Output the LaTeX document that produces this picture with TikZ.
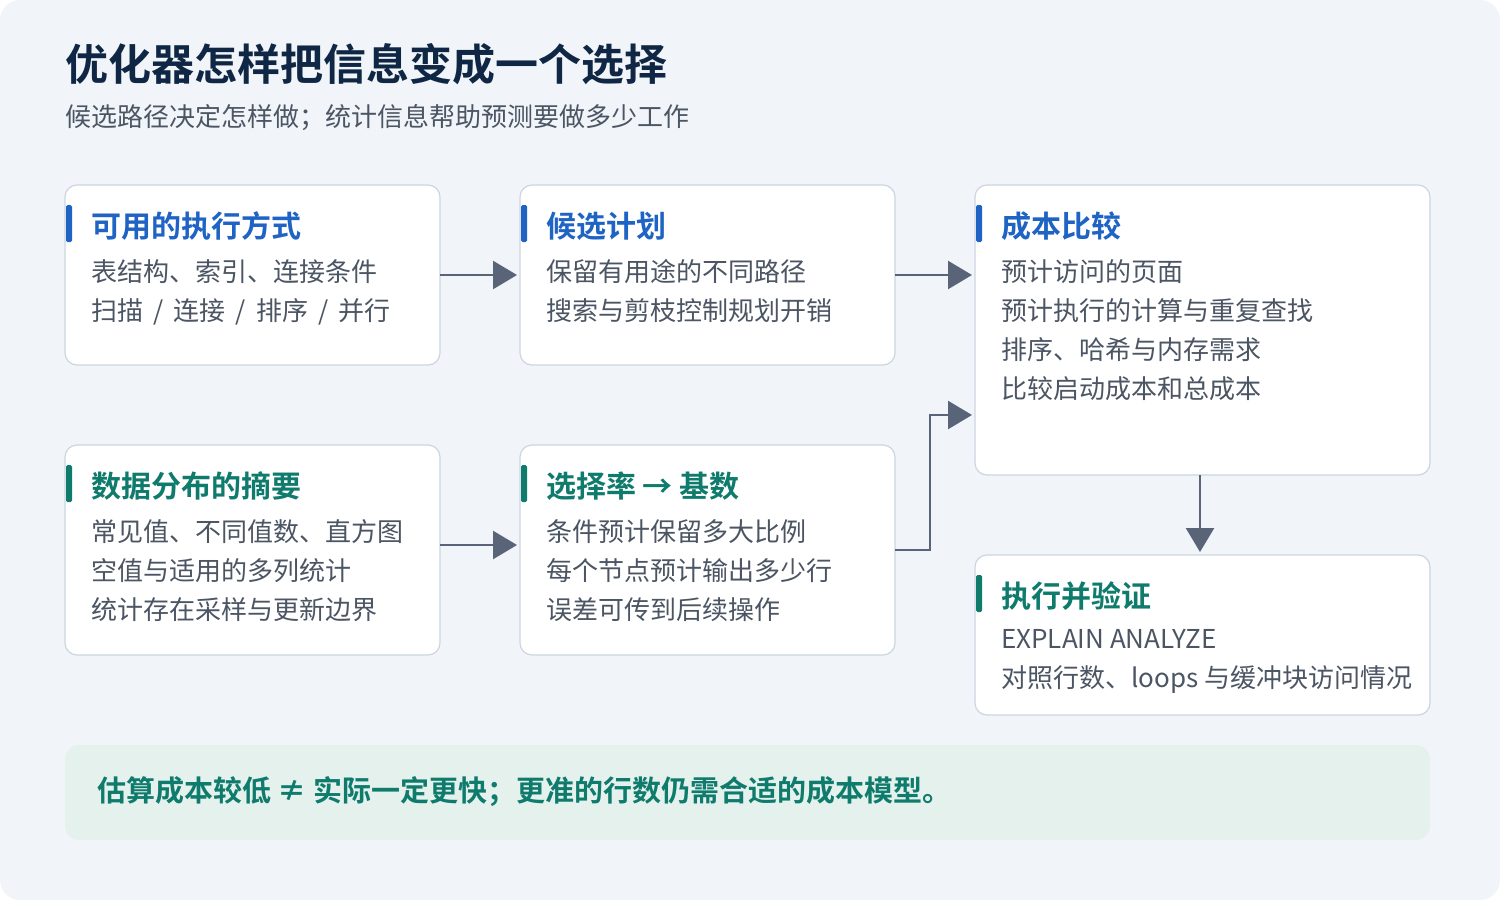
\documentclass[tikz,border=0pt]{standalone}
\usepackage{fontspec}
\setmainfont{Noto Sans CJK SC}
\newfontfamily\cjkb{Noto Sans CJK SC Bold}
\usetikzlibrary{arrows.meta}
\definecolor{bgc}{HTML}{F1F5F9}
\definecolor{edgec}{HTML}{CBD5E1}
\definecolor{bluec}{HTML}{1F63C4}
\definecolor{greenc}{HTML}{0F7B6C}
\definecolor{textc}{HTML}{4B5563}
\definecolor{titlec}{HTML}{0F2744}
\definecolor{arrc}{HTML}{5A6478}
\definecolor{notec}{HTML}{E5F1EC}
\tikzset{
  card/.style={draw=edgec,line width=1.2pt,fill=white,rounded corners=12pt},
  head/.style={anchor=west,inner sep=0pt,font=\fontsize{30}{34}\selectfont\cjkb},
  body/.style={anchor=north west,inner sep=0pt,align=left,text=textc,
    font=\fontsize{26}{39}\selectfont},
  flow/.style={draw=arrc,line width=2.6pt,-{Triangle[length=24pt,width=28pt]}}
}
\newcommand{\cardbox}[6]{% name, x1, y1, x2, y2, colour
  \draw[card] (#2,#3) rectangle (#4,#5);
  \coordinate (#1) at (#2,#3);
  \fill[#6,rounded corners=1.5pt] (#2+1,#3+20) rectangle (#2+7,#3+57);}
\begin{document}
\begin{tikzpicture}[x=1pt,y=-1pt]
\useasboundingbox (0,0) rectangle (1500,900);
\fill[bgc,rounded corners=20pt] (0,0) rectangle (1500,900);
% titles
\node[anchor=west,inner sep=0pt,text=titlec,font=\fontsize{43}{48}\selectfont\cjkb] (title) at (65,64) {优化器怎样把信息变成一个选择};
\node[anchor=west,inner sep=0pt,text=textc,font=\fontsize{26}{30}\selectfont] (sub) at (65,118) {候选路径决定怎样做；统计信息帮助预测要做多少工作};
% cards
\cardbox{a}{65}{185}{440}{365}{bluec}
\cardbox{b}{520}{185}{895}{365}{bluec}
\cardbox{c}{975}{185}{1430}{475}{bluec}
\cardbox{d}{65}{445}{440}{655}{greenc}
\cardbox{e}{520}{445}{895}{655}{greenc}
\cardbox{f}{975}{555}{1430}{715}{greenc}
\node[head,text=bluec] at (91,226) {可用的执行方式};
\node[body] at (91,259) {表结构、索引、连接条件\\扫描 \,/\, 连接 \,/\, 排序 \,/\, 并行};
\node[head,text=bluec] at (546,226) {候选计划};
\node[body] at (546,259) {保留有用途的不同路径\\搜索与剪枝控制规划开销};
\node[head,text=bluec] at (1001,226) {成本比较};
\node[body] at (1001,259) {预计访问的页面\\预计执行的计算与重复查找\\排序、哈希与内存需求\\比较启动成本和总成本};
\node[head,text=greenc] at (91,486) {数据分布的摘要};
\node[body] at (91,519) {常见值、不同值数、直方图\\空值与适用的多列统计\\统计存在采样与更新边界};
\node[head,text=greenc] at (546,486) {选择率 → 基数};
\node[body] at (546,519) {条件预计保留多大比例\\每个节点预计输出多少行\\误差可传到后续操作};
\node[head,text=greenc] at (1001,596) {执行并验证};
\node[body] at (1001,629) {EXPLAIN ANALYZE\\对照行数、loops 与缓冲块访问情况};
% arrows
\coordinate (ab1) at (440,275); \coordinate (ab2) at (517,275);
\coordinate (bc1) at (895,275); \coordinate (bc2) at (972,275);
\coordinate (de1) at (440,545); \coordinate (de2) at (517,545);
\coordinate (ec1) at (895,550); \coordinate (ec2) at (972,415);
\coordinate (cf1) at (1200,475); \coordinate (cf2) at (1200,552);
\draw[flow] (ab1) -- (ab2);
\draw[flow] (bc1) -- (bc2);
\draw[flow] (de1) -- (de2);
\draw[flow] (ec1) -- (930,550) -- (930,415) -- (ec2);
\draw[flow] (cf1) -- (cf2);
% note
\fill[notec,rounded corners=14pt] (65,745) rectangle (1430,840);
\node[anchor=west,inner sep=0pt,text=greenc,font=\fontsize{29}{34}\selectfont\cjkb] (note) at (97,792) {估算成本较低 ≠ 实际一定更快；更准的行数仍需合适的成本模型。};
\end{tikzpicture}
\end{document}
